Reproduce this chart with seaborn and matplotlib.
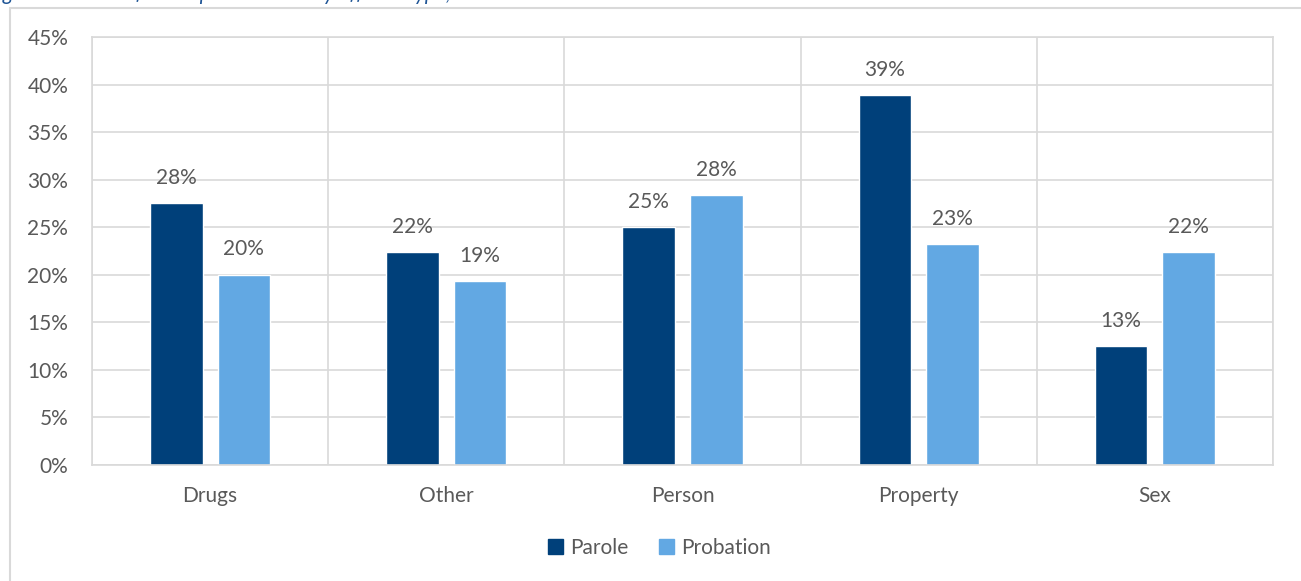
import matplotlib
matplotlib.use("Agg")
import matplotlib.pyplot as plt
import matplotlib.patches as mpatches
import seaborn as sns
import pandas as pd

# Offense categories and supervision success rates (%)
categories = ["Drugs", "Other", "Person", "Property", "Sex"]
parole = [27.5, 22.4, 25.0, 38.9, 12.5]
probation = [20.0, 19.3, 28.4, 23.2, 22.4]
series_names = ["Parole", "Probation"]
y_ticks = [0, 5, 10, 15, 20, 25, 30, 35, 40, 45]
title = "Figure 4: Successful completion rates by offense type, 2018"

colors = {"Parole": "#00407A", "Probation": "#62A8E3"}
text_color = "#595959"
grid_color = "#D9D9D9"
fs = 15

df = pd.DataFrame({
    "Offense": categories * 2,
    "Type": [series_names[0]] * len(categories) + [series_names[1]] * len(categories),
    "Rate": parole + probation,
})

sns.set_theme(style="white")
plt.rcParams["font.family"] = ["Lato", "DejaVu Sans"]

fig = plt.figure(figsize=(13.01, 5.81), dpi=100)
ax = fig.add_axes([0.0707, 0.1997, 0.9078, 0.7366])

sns.barplot(data=df, x="Offense", y="Rate", hue="Type", order=categories,
            hue_order=series_names, palette=colors, width=0.572, gap=0.22,
            saturation=1, ax=ax, legend=False, errorbar=None)

ax.set_ylim(0, 45)
ax.set_xlim(-0.5, len(categories) - 0.5)
ax.set_yticks(y_ticks)
ax.set_yticklabels([f"{t}%" for t in y_ticks])
ax.set_xlabel("")
ax.set_ylabel("")
ax.tick_params(axis="both", length=0, labelsize=fs, labelcolor=text_color)
ax.tick_params(axis="y", pad=17)
ax.tick_params(axis="x", pad=15)

# horizontal gridlines and category separators
ax.set_axisbelow(True)
ax.yaxis.grid(True, color=grid_color, linewidth=1.2)
for k in range(len(categories) + 1):
    ax.axvline(k - 0.5, color=grid_color, linewidth=1.2, zorder=0)
for s in ax.spines.values():
    s.set_color(grid_color)
    s.set_linewidth(1.2)

# value labels above each bar
for container in ax.containers:
    vals = container.datavalues
    ax.bar_label(container, labels=[f"{int(v + 0.5)}%" for v in vals],
                 padding=11, fontsize=fs, color=text_color)

# legend below the plot
handles = [mpatches.Patch(color=colors[n], label=n) for n in series_names]
fig.legend(handles=handles, loc="center", bbox_to_anchor=(0.507, 0.057),
           ncol=2, frameon=False, fontsize=fs, labelcolor=text_color,
           handlelength=0.7, handleheight=0.7, handletextpad=0.35,
           columnspacing=1.5)

# chart frame
fig.patches.append(mpatches.Rectangle((10 / 1301, -0.2), 1.2, 1 - 8 / 581 + 0.2,
                                      transform=fig.transFigure, fill=False,
                                      edgecolor=grid_color, linewidth=1.5))

# caption sitting just above the top edge
fig.text(-0.01, 1.0, title, ha="left", va="baseline", fontsize=15,
         style="italic", color="#1F5596")

fig.savefig("out.png", dpi=100)
